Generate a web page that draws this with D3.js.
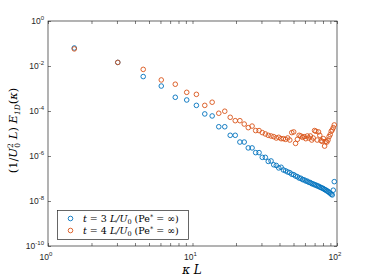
<!DOCTYPE html>
<html>
<head>
<meta charset="utf-8">
<script src="https://cdn.jsdelivr.net/npm/d3@7"></script>
<style>
  body { margin: 0; background: #fff; }
  svg { display: block; }
</style>
</head>
<body>
<svg id="chart" width="374" height="280"></svg>
<script>
// kappa L values of the sampled modes
var kappaL = [1.52, 3.04, 4.56, 6.08, 7.60, 9.12, 10.64, 12.16, 13.68, 15.20,
  16.72, 18.24, 19.76, 21.28, 22.80, 24.32, 25.84, 27.36, 28.88, 30.40,
  31.92, 33.44, 34.96, 36.48, 38.00, 39.52, 41.04, 42.56, 44.08, 45.60,
  47.12, 48.64, 50.16, 51.68, 53.20, 54.72, 56.24, 57.76, 59.28, 60.80,
  62.32, 63.84, 65.36, 66.88, 68.40, 69.92, 71.44, 72.96, 74.48, 76.00,
  77.52, 79.04, 80.56, 82.08, 83.60, 85.12, 86.64, 88.16, 89.68, 91.20,
  92.72, 94.24, 95.76];

// log10 of spectrum, t = 3 L/U0
var logE3 = [-1.20, -1.84, -2.47, -2.89, -3.39, -3.51, -3.75, -4.13, -4.22, -4.70,
  -4.70, -5.08, -5.08, -5.38, -5.38, -5.64, -5.64, -5.85, -5.85, -6.06,
  -6.06, -6.24, -6.22, -6.39, -6.42, -6.53, -6.50, -6.62, -6.66, -6.71,
  -6.74, -6.81, -6.83, -6.89, -6.92, -6.98, -6.99, -7.05, -7.06, -7.11,
  -7.12, -7.17, -7.18, -7.23, -7.24, -7.28, -7.29, -7.33, -7.34, -7.38,
  -7.40, -7.43, -7.45, -7.49, -7.51, -7.55, -7.57, -7.62, -7.65, -7.70,
  -7.73, -7.52, -7.14];

// log10 of spectrum, t = 4 L/U0
var logE4 = [-1.24, -1.84, -2.15, -2.62, -2.81, -3.17, -3.26, -3.75, -3.61, -4.10,
  -4.01, -4.28, -4.43, -4.43, -4.58, -4.74, -4.67, -4.87, -4.87, -4.96,
  -5.02, -5.08, -5.11, -5.14, -5.20, -5.17, -5.23, -5.23, -5.26, -5.20,
  -5.29, -4.96, -4.93, -5.44, -5.26, -5.08, -5.11, -5.17, -5.14, -5.23,
  -5.11, -5.20, -5.11, -5.29, -5.20, -4.87, -4.90, -5.29, -4.93, -5.08,
  -5.32, -5.35, -5.23, -5.56, -5.35, -5.38, -5.29, -5.14, -5.05, -4.90,
  -4.84, -4.74, -4.62];

var xMajor = [1, 10, 100];
var yMajor = [-10, -8, -6, -4, -2, 0];

var series = [
  { label: '3', vals: logE3, color: '#0072BD' },
  { label: '4', vals: logE4, color: '#D95319' }
];

var pL = 48, pT = 21, pR = 337, pB = 246;
var axisColor = '#262626';

var svg = d3.select('#chart');

var x = d3.scaleLog().domain([1, 100]).range([pL, pR]);
var y = d3.scaleLog().domain([1e-10, 1]).range([pB, pT]);

// minor ticks on x
var xTicks = [];
for (var d = 1; d <= 10; d *= 10) {
  for (var k = 1; k < 10; k++) xTicks.push(d * k);
}
xTicks.push(100);
var yTicks = yMajor.map(function(p) { return Math.pow(10, p); });

var g = svg.append('g');

function styleAxis(sel) {
  sel.select('.domain').remove();
  sel.selectAll('.tick line').attr('stroke', axisColor).attr('stroke-width', 0.6);
}

g.append('g').attr('transform', 'translate(0,' + pB + ')')
  .call(d3.axisBottom(x).tickValues(xTicks).tickSize(-3).tickFormat(''))
  .call(styleAxis);
g.append('g').attr('transform', 'translate(0,' + pT + ')')
  .call(d3.axisTop(x).tickValues(xTicks).tickSize(-3).tickFormat(''))
  .call(styleAxis);
g.append('g').attr('transform', 'translate(' + pL + ',0)')
  .call(d3.axisLeft(y).tickValues(yTicks).tickSize(-3).tickFormat(''))
  .call(styleAxis);
g.append('g').attr('transform', 'translate(' + pR + ',0)')
  .call(d3.axisRight(y).tickValues(yTicks).tickSize(-3).tickFormat(''))
  .call(styleAxis);

g.append('rect')
  .attr('x', pL).attr('y', pT)
  .attr('width', pR - pL).attr('height', pB - pT)
  .attr('fill', 'none').attr('stroke', axisColor).attr('stroke-width', 0.7);

// tick labels 10^n
var xl = g.selectAll('.xlab').data(xMajor).enter().append('text')
  .attr('class', 'xlab')
  .attr('x', function(d) { return x(d) - 2; })
  .attr('y', 260)
  .attr('text-anchor', 'middle')
  .attr('font-family', 'Liberation Sans, Arial, sans-serif')
  .attr('font-size', 8.5)
  .attr('fill', axisColor);
xl.append('tspan').text('10');
xl.append('tspan').attr('dy', -4).attr('font-size', 6)
  .text(function(d) { return Math.round(Math.log10(d)); });

var yl = g.selectAll('.ylab').data(yMajor).enter().append('text')
  .attr('class', 'ylab')
  .attr('x', 44)
  .attr('y', function(p) { return y(Math.pow(10, p)) + 3; })
  .attr('text-anchor', 'end')
  .attr('font-family', 'Liberation Sans, Arial, sans-serif')
  .attr('font-size', 8.5)
  .attr('fill', axisColor);
yl.append('tspan').text('10');
yl.append('tspan').attr('dy', -4).attr('font-size', 6)
  .text(function(p) { return p; });

// markers
series.forEach(function(s) {
  g.append('g').selectAll('circle')
    .data(s.vals)
    .enter().append('circle')
    .attr('cx', function(v, i) { return x(kappaL[i]); })
    .attr('cy', function(v) { return y(Math.pow(10, v)); })
    .attr('r', 2.3)
    .attr('fill', 'none')
    .attr('stroke', s.color)
    .attr('stroke-width', 0.9);
});

// axis titles
var serif = 'DejaVu Serif, Liberation Serif, serif';
var xt = g.append('text')
  .attr('x', 192).attr('y', 274)
  .attr('text-anchor', 'middle')
  .attr('font-family', serif).attr('font-size', 12)
  .attr('font-style', 'italic').attr('fill', '#000');
xt.append('tspan').text('κ L');

var yt = g.append('text')
  .attr('transform', 'translate(17,' + ((pT + pB) / 2 - 3) + ') rotate(-90)')
  .attr('text-anchor', 'middle')
  .attr('font-family', serif).attr('font-size', 11.5).attr('fill', '#000');
yt.append('tspan').text('(1/');
yt.append('tspan').attr('font-style', 'italic').text('U');
yt.append('tspan').attr('font-size', 7.5).attr('dy', -4).text('2');
yt.append('tspan').attr('font-size', 7.5).attr('dx', -4.5).attr('dy', 7).text('0');
yt.append('tspan').attr('font-style', 'italic').attr('dy', -3).text(' L');
yt.append('tspan').text(')  ');
yt.append('tspan').attr('font-style', 'italic').text('E');
yt.append('tspan').attr('font-style', 'italic').attr('font-size', 7.5).attr('dy', 3).text('1D');
yt.append('tspan').attr('dy', -3).text('(');
yt.append('tspan').attr('font-style', 'italic').text('κ');
yt.append('tspan').text(')');

// legend
var lg = g.append('g');
lg.append('rect')
  .attr('x', 57.5).attr('y', 210.5).attr('width', 131).attr('height', 29)
  .attr('fill', '#fff').attr('stroke', axisColor).attr('stroke-width', 0.7);
series.forEach(function(s, i) {
  var cy = 218.5 + i * 12;
  lg.append('circle')
    .attr('cx', 70.5).attr('cy', cy).attr('r', 2.3)
    .attr('fill', 'none').attr('stroke', s.color).attr('stroke-width', 0.9);
  var t = lg.append('text')
    .attr('x', 83).attr('y', cy + 3.5)
    .attr('font-family', serif).attr('font-size', 9.5).attr('fill', '#000');
  t.append('tspan').attr('font-style', 'italic').text('t');
  t.append('tspan').text(' = ' + s.label + ' ');
  t.append('tspan').attr('font-style', 'italic').text('L/U');
  t.append('tspan').attr('font-size', 6.5).attr('dy', 2).text('0');
  t.append('tspan').attr('dy', -2).text(' (Pe');
  t.append('tspan').attr('font-size', 6.5).attr('dy', -3).text('*');
  t.append('tspan').attr('dy', 3).text(' = ∞)');
});
</script>
</body>
</html>
